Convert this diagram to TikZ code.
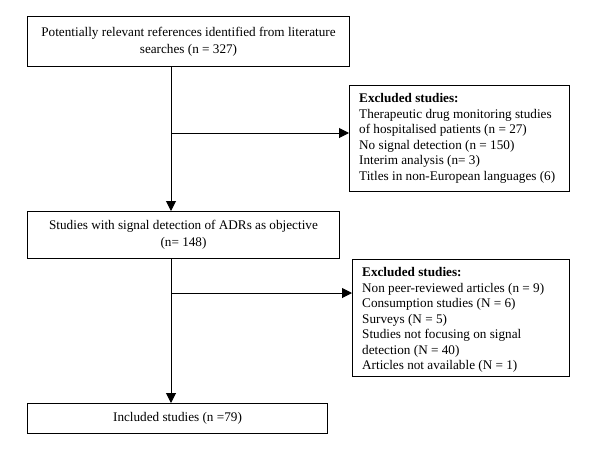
\documentclass[tikz,border=0pt]{standalone}
\usepackage{fontspec}
\setmainfont{Liberation Serif}
\usetikzlibrary{arrows.meta}
\begin{document}
\begin{tikzpicture}[x=1pt,y=-1pt,
  box/.style={draw,line width=1pt,inner sep=0pt,anchor=north west,align=center,font=\fontsize{13.2}{17}\selectfont},
  frame/.style={draw,line width=1pt,inner sep=0pt,anchor=north west},
  list/.style={inner sep=0pt,anchor=west,align=left,font=\fontsize{13.2}{15.5}\selectfont},
  arr/.style={line width=1pt,-{Triangle[length=10pt,width=10pt]}}]
\useasboundingbox (0,0) rectangle (600,461);
\node[box,minimum width=322pt,minimum height=50pt] (b1) at (27,16)
  {Potentially relevant references identified from literature\\searches (n = 327)};
\node[frame,minimum width=220pt,minimum height=106pt] (e1) at (349,85) {};
\node[list] (t1) at ([xshift=10pt]e1.west)
  {\textbf{Excluded studies:}\\Therapeutic drug monitoring studies\\of hospitalised patients (n = 27)\\No signal detection (n = 150)\\Interim analysis (n= 3)\\Titles in non-European languages (6)};
\node[box,minimum width=312pt,minimum height=47pt] (b2) at (27,211)
  {Studies with signal detection of ADRs as objective\\(n= 148)};
\node[frame,minimum width=217pt,minimum height=117pt] (e2) at (352,259) {};
\node[list,yshift=-2pt] (t2) at ([xshift=10pt]e2.west)
  {\textbf{Excluded studies:}\\Non peer-reviewed articles (n = 9)\\Consumption studies (N = 6)\\Surveys (N = 5)\\Studies not focusing on signal\\detection (N = 40)\\Articles not available (N = 1)};
\node[box,minimum width=300pt,minimum height=30pt] (b3) at (27,403)
  {Included studies (n =79)};
\coordinate (j1) at (171,133);
\coordinate (j2) at (171,293);
\draw[arr] (b1.south -| j1) -- (b2.north -| j1);
\draw[arr] (j1) -- (e1.west |- j1);
\draw[arr] (b2.south -| j2) -- (b3.north -| j2);
\draw[arr] (j2) -- (e2.west |- j2);
\end{tikzpicture}
\end{document}
